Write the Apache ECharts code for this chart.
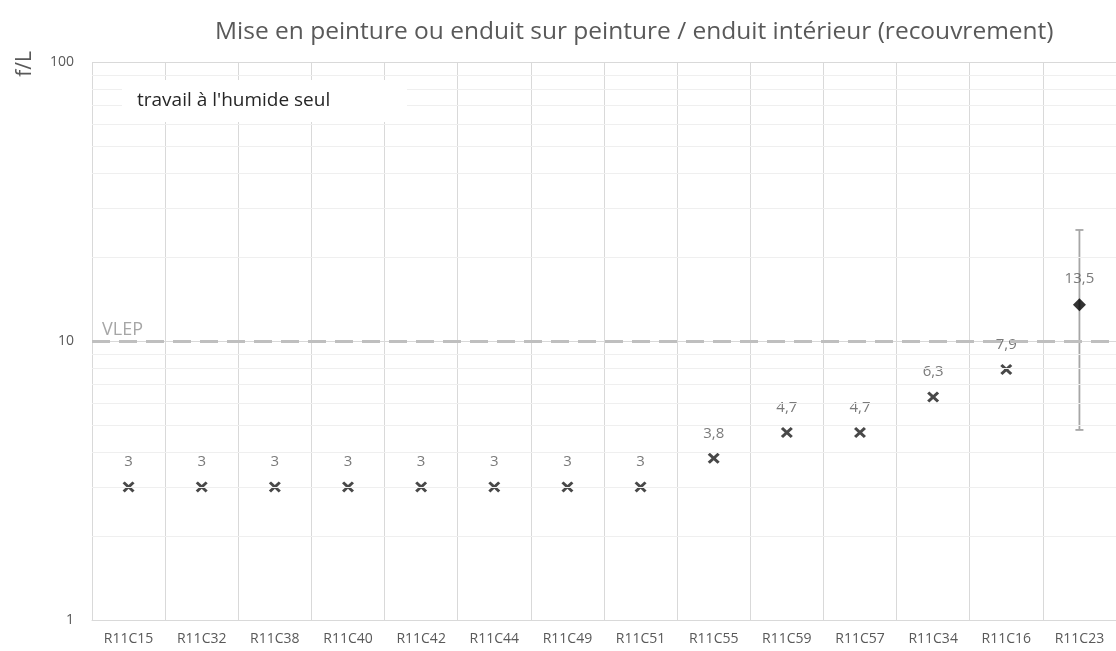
<!DOCTYPE html>
<html>
<head>
<meta charset="utf-8">
<script src="https://cdn.jsdelivr.net/npm/echarts@6/dist/echarts.min.js"></script>
<style>
  html, body { margin: 0; padding: 0; background: #fff; }
  #chart { width: 1116px; height: 651px; }
</style>
</head>
<body>
<div id="chart"></div>
<script>
// catégories (prélèvements)
const categories = ['R11C15', 'R11C32', 'R11C38', 'R11C40', 'R11C42', 'R11C44', 'R11C49',
  'R11C51', 'R11C55', 'R11C59', 'R11C57', 'R11C34', 'R11C16', 'R11C23'];
// résultats individuels (f/L), croix
const mesures = [3, 3, 3, 3, 3, 3, 3, 3, 3.8, 4.7, 4.7, 6.3, 7.9, null];
// moyenne du dernier prélèvement, losange
const moyenne = [null, null, null, null, null, null, null, null, null, null, null, null, null, 13.5];
// intervalle [index, bas, haut]
const intervalle = [[13, 4.8, 25]];
const vlep = 10;
const minorTicks = [2, 3, 4, 5, 6, 7, 8, 9, 20, 30, 40, 50, 60, 70, 80, 90];

const gray = '#595959';
const font = 'Open Sans';
const crossPath = 'path://M0,1.8 L1.8,0 L5,3.2 L8.2,0 L10,1.8 L6.8,5 L10,8.2 L8.2,10 L5,6.8 L1.8,10 L0,8.2 L3.2,5 Z';
const fmt = (p) => String(p.value).replace('.', ',');

const chart = echarts.init(document.getElementById('chart'));
chart.setOption({
  animation: false,
  textStyle: { fontFamily: font },
  title: {
    text: 'Mise en peinture ou enduit sur peinture / enduit intérieur (recouvrement)',
    left: 210,
    top: 15,
    textStyle: { fontFamily: font, fontSize: 24.5, fontWeight: 'normal', color: gray }
  },
  grid: { left: 92, right: -2, top: 62, bottom: 31 },
  xAxis: {
    type: 'category',
    data: categories,
    boundaryGap: true,
    axisLine: { lineStyle: { color: '#d9d9d9' } },
    axisTick: { show: false },
    axisLabel: { color: gray, fontSize: 14, margin: 12, fontFamily: font },
    splitLine: { show: true, lineStyle: { color: '#d9d9d9', width: 1 } }
  },
  yAxis: {
    type: 'log',
    logBase: 10,
    min: 1,
    max: 100,
    axisLine: { show: false },
    axisTick: { show: false },
    axisLabel: { color: gray, fontSize: 14, margin: 18, fontFamily: font },
    splitLine: { lineStyle: { color: '#d9d9d9' } }
  },
  graphic: [
    {
      type: 'text',
      x: 25,
      y: 64,
      rotation: Math.PI / 2,
      style: { text: 'f/L', fill: gray, fontSize: 21, fontFamily: font, align: 'center', verticalAlign: 'middle' }
    },
    {
      type: 'rect',
      z: 100,
      shape: { x: 122, y: 80, width: 285, height: 42 },
      style: { fill: '#fff' }
    },
    {
      type: 'text',
      z: 101,
      x: 137,
      y: 101,
      style: { text: "travail à l'humide seul", fill: '#262626', fontSize: 19, fontFamily: font, verticalAlign: 'middle' }
    }
  ],
  series: [
    {
      name: 'grille',
      type: 'line',
      data: [],
      silent: true,
      z: 0,
      markLine: {
        silent: true,
        symbol: 'none',
        label: { show: false },
        lineStyle: { color: '#efefef', width: 1, type: 'solid' },
        data: minorTicks.map((v) => ({ yAxis: v }))
      }
    },
    {
      name: 'VLEP',
      type: 'line',
      data: [],
      silent: true,
      z: 1,
      markLine: {
        silent: true,
        symbol: 'none',
        lineStyle: { color: '#bfbfbf', width: 3, type: [18, 9] },
        label: {
          show: true,
          position: 'insideStartTop',
          formatter: 'VLEP',
          color: '#a6a6a6',
          fontSize: 18,
          fontFamily: font,
          distance: [10, 2]
        },
        data: [{ yAxis: vlep }]
      }
    },
    {
      name: 'intervalle',
      type: 'custom',
      z: 2,
      data: intervalle,
      encode: { x: 0, y: [1, 2] },
      renderItem: (params, api) => {
        const top = api.coord([api.value(0), api.value(2)]);
        const bot = api.coord([api.value(0), api.value(1)]);
        const w = 8;
        const style = { stroke: '#a6a6a6', lineWidth: 1.8 };
        return {
          type: 'group',
          children: [
            { type: 'line', shape: { x1: top[0], y1: top[1], x2: bot[0], y2: bot[1] }, style },
            { type: 'line', shape: { x1: top[0] - w / 2, y1: top[1], x2: top[0] + w / 2, y2: top[1] }, style },
            { type: 'line', shape: { x1: bot[0] - w / 2, y1: bot[1], x2: bot[0] + w / 2, y2: bot[1] }, style }
          ]
        };
      }
    },
    {
      name: 'mesures',
      type: 'scatter',
      z: 3,
      data: mesures,
      symbol: crossPath,
      symbolSize: [12, 11],
      itemStyle: { color: '#1a1a1a' },
      label: { show: true, position: 'top', distance: 12, color: gray, fontSize: 15, fontFamily: font, formatter: fmt }
    },
    {
      name: 'moyenne',
      type: 'scatter',
      z: 4,
      data: moyenne,
      symbol: 'diamond',
      symbolSize: [13, 13],
      itemStyle: { color: '#000' },
      label: { show: true, position: 'top', distance: 12, color: gray, fontSize: 15, fontFamily: font, formatter: fmt }
    }
  ]
});
</script>
</body>
</html>
